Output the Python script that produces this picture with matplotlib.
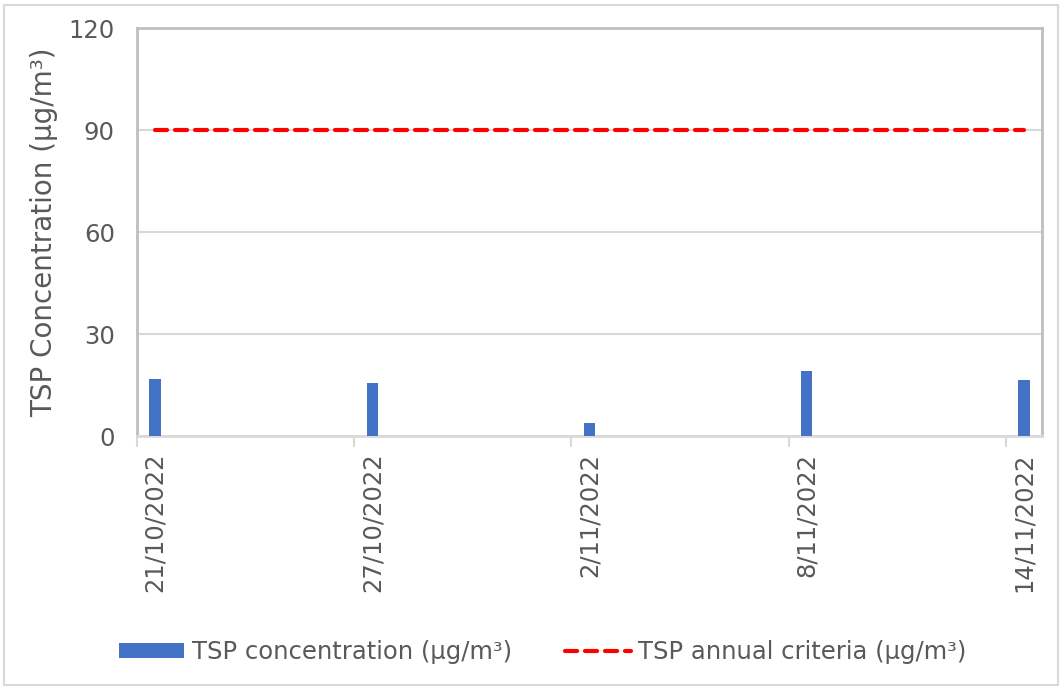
import pandas as pd
import matplotlib.pyplot as plt
from matplotlib.patches import Rectangle

# TSP sampling results
sample_dates = ['21/10/2022', '27/10/2022', '2/11/2022', '8/11/2022', '14/11/2022']
tsp_conc = [16.7, 15.5, 3.7, 19.1, 16.5]
tsp_criteria = [90, 90, 90, 90, 90]
y_ticks = [0, 30, 60, 90, 120]

txt_col = '#595959'
fs = 17.5

d = pd.to_datetime(sample_dates, dayfirst=True)
x = (d - d[0]).days.values.astype(float)
ndays = (d[-1] - d[0]).days + 1

fig = plt.figure(figsize=(10.64, 6.89), dpi=100)
ax = fig.add_axes([137/1064, 1-436/689, 905/1064, 408/689])

bars = ax.bar(x, tsp_conc, width=0.32, color='#4472C4', zorder=3,
              label='TSP concentration (µg/m³)')
line, = ax.plot(x, tsp_criteria, color='#FF0000', lw=3, ls=(0, (2.9, 1.9)),
                dash_capstyle='round', zorder=4, label='TSP annual criteria (µg/m³)')

ax.set_xlim(-0.5, ndays - 0.5)
ax.set_ylim(0, 120)
ax.set_yticks(y_ticks)
ax.grid(axis='y', color='#d9d9d9', lw=1.5, zorder=0)

ax.set_xticks(x)
ax.set_xticklabels(sample_dates, rotation=90)
ax.set_xticks(x - 0.5, minor=True)
ax.tick_params(axis='x', which='major', length=0, pad=12, labelsize=fs, labelcolor=txt_col)
ax.tick_params(axis='x', which='minor', length=8, width=1.5, color='#d9d9d9')
ax.tick_params(axis='y', length=0, pad=16, labelsize=fs, labelcolor=txt_col)

for s in ['left', 'top', 'right']:
    ax.spines[s].set_color('#bfbfbf')
    ax.spines[s].set_linewidth(2)
ax.spines['bottom'].set_color('#d9d9d9')
ax.spines['bottom'].set_linewidth(2)

ax.set_ylabel('TSP Concentration (µg/m³)', fontsize=20, color=txt_col)
ax.yaxis.set_label_coords(-0.087, 0.5)

fig.legend([bars, line], [bars.get_label(), line.get_label()],
           loc='center', bbox_to_anchor=(0.51, 1-652/689), ncol=2, frameon=False,
           fontsize=fs, labelcolor=txt_col, handlelength=2.7, handleheight=0.6,
           handletextpad=0.3, columnspacing=2.2)

fig.patches.append(Rectangle((4/1064, 1-685/689), 1054/1064, 680/689,
                             transform=fig.transFigure, fill=False,
                             edgecolor='#d9d9d9', lw=1.5))

fig.savefig('out.png', dpi=100)
